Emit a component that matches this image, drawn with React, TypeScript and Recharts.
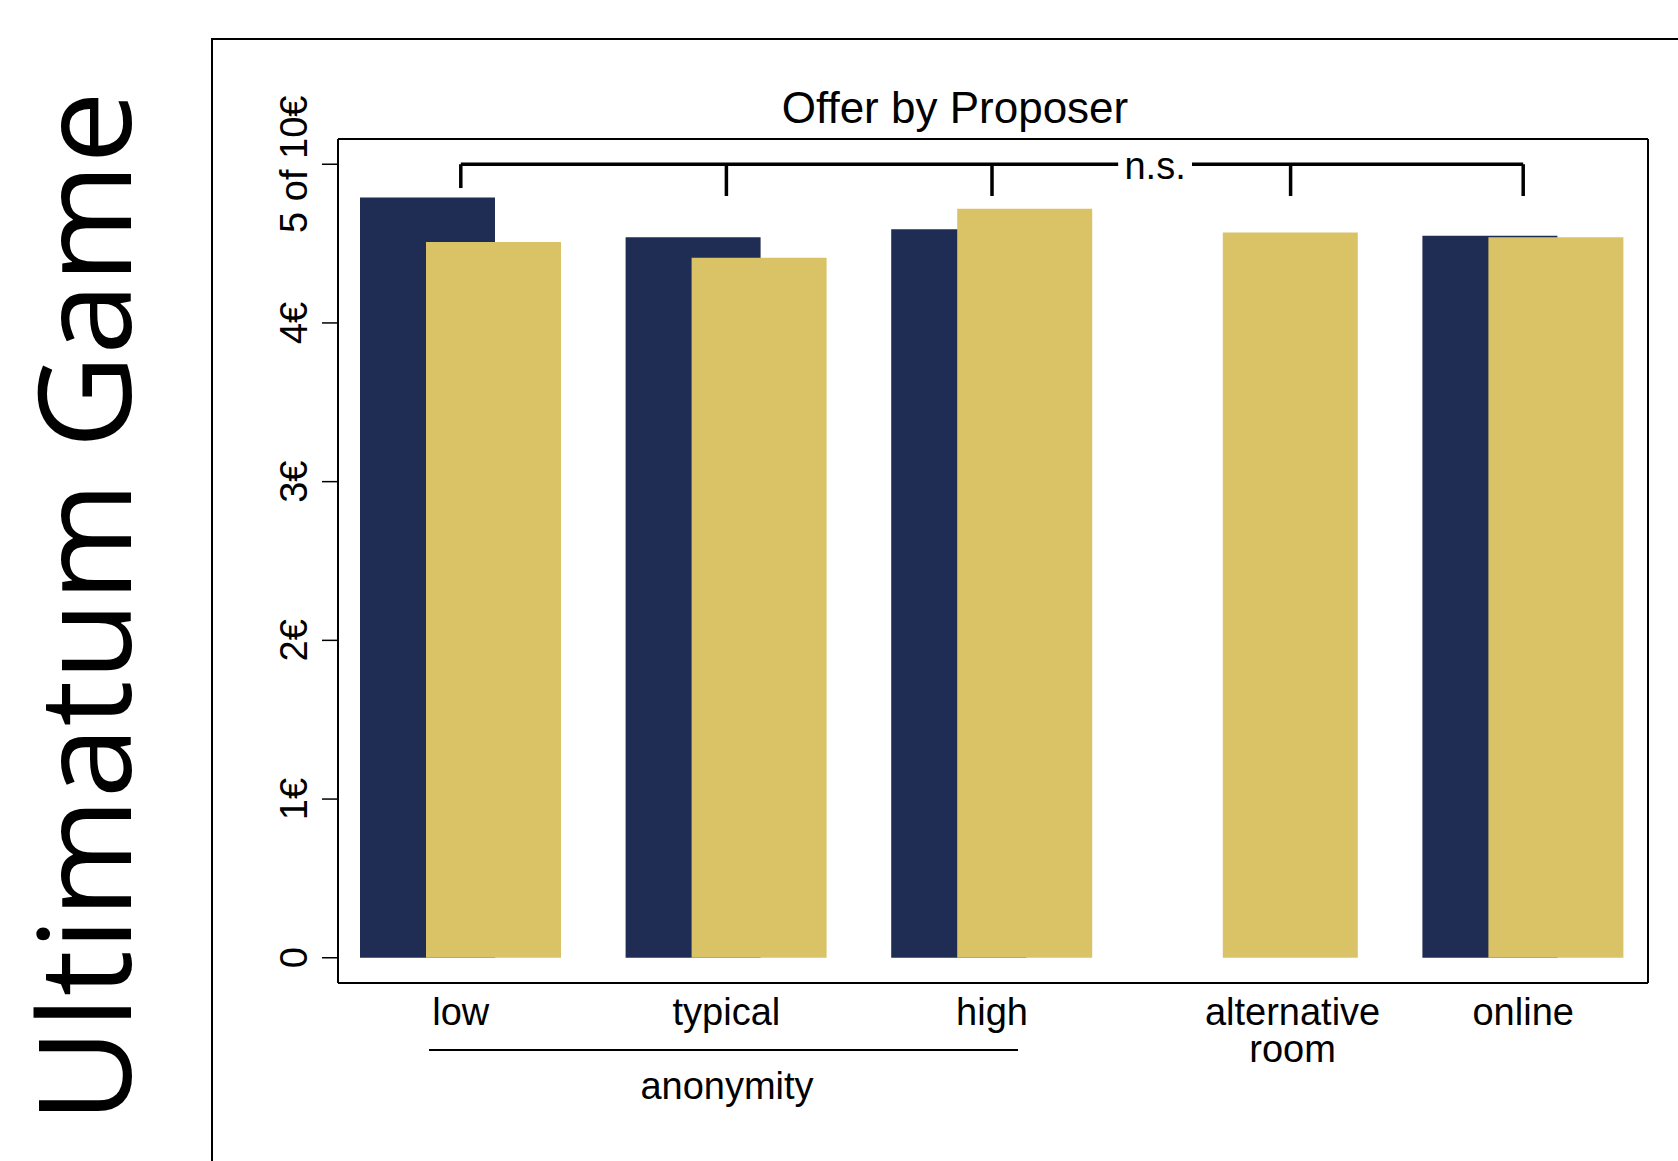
import { BarChart, Bar, XAxis, YAxis, ReferenceLine, ReferenceDot } from 'recharts';

const categories = ['low', 'typical', 'high', 'alternative\nroom', 'online'];
const navyValues = [4.79, 4.54, 4.59, null, 4.55];
const goldValues = [4.51, 4.41, 4.72, 4.57, 4.54];
const yTicks = [0, 1, 2, 3, 4, 5];
const yTickLabels = ['0', '1€', '2€', '3€', '4€', '5 of 10€'];

// "n.s." bracket: horizontal line at 5, tick ends
const bracketTop = 5;
const bracketEnds = [4.85, 4.8, 4.8, 4.8, 4.8];
const nsGap = [2.475, 2.753];

const NAVY = '#1f2d54';
const GOLD = '#d9c366';
const FONT = '"Liberation Sans", Arial, Helvetica, sans-serif';

const W = 1678;
const H = 1161;
const Y_AXIS_W = 60;
const X_AXIS_H = 60;
const MARGIN = { top: 138, right: 29, bottom: 118, left: 278 };
const X_PAD = { left: -10, right: -8 };
const BAR_SIZE = 135;
const BAR_GAP = -69;
const BAR_STEP = BAR_SIZE + BAR_GAP;

const data = categories.map((name, i) => ({ name, pos: i, navy: navyValues[i], gold: goldValues[i] }));

// band width, used to place the label / bracket of single-bar categories
const plotW = W - MARGIN.left - Y_AXIS_W - MARGIN.right - 1 - X_PAD.left - X_PAD.right;
const band = plotW / categories.length;
const anchors = data.map((d, i) => i + (d.navy == null ? BAR_STEP / 2 / band : 0));
// numeric position axis: index i sits on the centre of band i
const POS_PAD = { left: band / 2 + X_PAD.left, right: band / 2 + X_PAD.right };

function CategoryTick(props: any) {
  const { x, y, payload, index } = props;
  const row = data[index] ?? data.find((d) => d.name === payload.value);
  const shift = row && row.navy == null ? BAR_STEP / 2 + 2 : 0;
  const lines = String(payload.value).split('\n');
  return (
    <g>
      {lines.map((l, i) => (
        <text key={i} x={x + shift} y={y + i * 37} textAnchor="middle" fontSize={38} fontFamily={FONT} fill="#000">
          {l}
        </text>
      ))}
    </g>
  );
}

function ValueTick(props: any) {
  const { x, y, payload } = props;
  const label = yTickLabels[yTicks.indexOf(payload.value)] ?? String(payload.value);
  return (
    <text x={x} y={y} transform={`rotate(-90 ${x} ${y})`} textAnchor="middle" fontSize={38} fontFamily={FONT} fill="#000">
      {label}
    </text>
  );
}

export default function App() {
  const bracket = '#000';
  return (
    <div style={{ position: 'absolute', left: 0, top: 0, width: W, height: H, overflow: 'hidden', background: '#fff' }}>
      <BarChart width={W} height={H} data={data} margin={MARGIN} barSize={BAR_SIZE} barGap={BAR_GAP}>
        <XAxis
          dataKey="name"
          interval={0}
          padding={X_PAD}
          height={X_AXIS_H}
          tickSize={0}
          tickMargin={42}
          tickLine={false}
          axisLine={{ stroke: '#000', strokeWidth: 2 }}
          tick={<CategoryTick />}
        />
        <XAxis
          xAxisId="pos"
          dataKey="pos"
          type="number"
          orientation="top"
          domain={[0, categories.length - 1]}
          allowDataOverflow
          padding={POS_PAD}
          height={1}
          tick={false}
          tickLine={false}
          axisLine={{ stroke: '#000', strokeWidth: 2 }}
        />
        <YAxis
          width={Y_AXIS_W}
          domain={[-0.159, 5.159]}
          allowDataOverflow
          ticks={yTicks}
          interval={0}
          tickSize={16}
          tickMargin={15}
          tickLine={{ stroke: '#000', strokeWidth: 1.5 }}
          axisLine={{ stroke: '#000', strokeWidth: 2 }}
          tick={<ValueTick />}
        />
        <YAxis
          yAxisId="r"
          orientation="right"
          width={1}
          domain={[-0.159, 5.159]}
          allowDataOverflow
          tick={false}
          tickLine={false}
          axisLine={{ stroke: '#000', strokeWidth: 2 }}
        />
        <Bar dataKey="navy" fill={NAVY} isAnimationActive={false} />
        <Bar dataKey="gold" fill={GOLD} isAnimationActive={false} />

        <ReferenceLine
          xAxisId="pos"
          segment={[{ x: anchors[0], y: bracketTop }, { x: nsGap[0], y: bracketTop }]}
          stroke={bracket}
          strokeWidth={3.5}
        />
        <ReferenceLine
          xAxisId="pos"
          segment={[{ x: nsGap[1], y: bracketTop }, { x: anchors[anchors.length - 1], y: bracketTop }]}
          stroke={bracket}
          strokeWidth={3.5}
        />
        {anchors.map((a, i) => (
          <ReferenceLine
            key={i}
            xAxisId="pos"
            segment={[{ x: a, y: bracketTop }, { x: a, y: bracketEnds[i] }]}
            stroke={bracket}
            strokeWidth={3.5}
          />
        ))}
        <ReferenceDot
          xAxisId="pos"
          x={(nsGap[0] + nsGap[1]) / 2}
          y={bracketTop}
          r={0}
          shape={(p: any) => (
            <text x={p.cx} y={p.cy + 15} textAnchor="middle" fontSize={38} fontFamily={FONT} fill="#000">
              n.s.
            </text>
          )}
        />
      </BarChart>

      <svg width={W} height={H} style={{ position: 'absolute', left: 0, top: 0, pointerEvents: 'none' }}>
        <path d={`M212 ${H} L212 39 L${W} 39`} fill="none" stroke="#000" strokeWidth={2} />
        <text x={955} y={123} textAnchor="middle" fontSize={44} fontFamily={FONT} fill="#000">
          Offer by Proposer
        </text>
        <text
          x={131}
          y={607}
          transform="rotate(-90 131 607)"
          textAnchor="middle"
          fontSize={129}
          fontFamily='"Open Sans", sans-serif'
          fill="#000"
        >
          Ultimatum Game
        </text>
        <line x1={429} y1={1050} x2={1018} y2={1050} stroke="#000" strokeWidth={2} />
        <text x={727} y={1099} textAnchor="middle" fontSize={38} fontFamily={FONT} fill="#000">
          anonymity
        </text>
      </svg>
    </div>
  );
}
